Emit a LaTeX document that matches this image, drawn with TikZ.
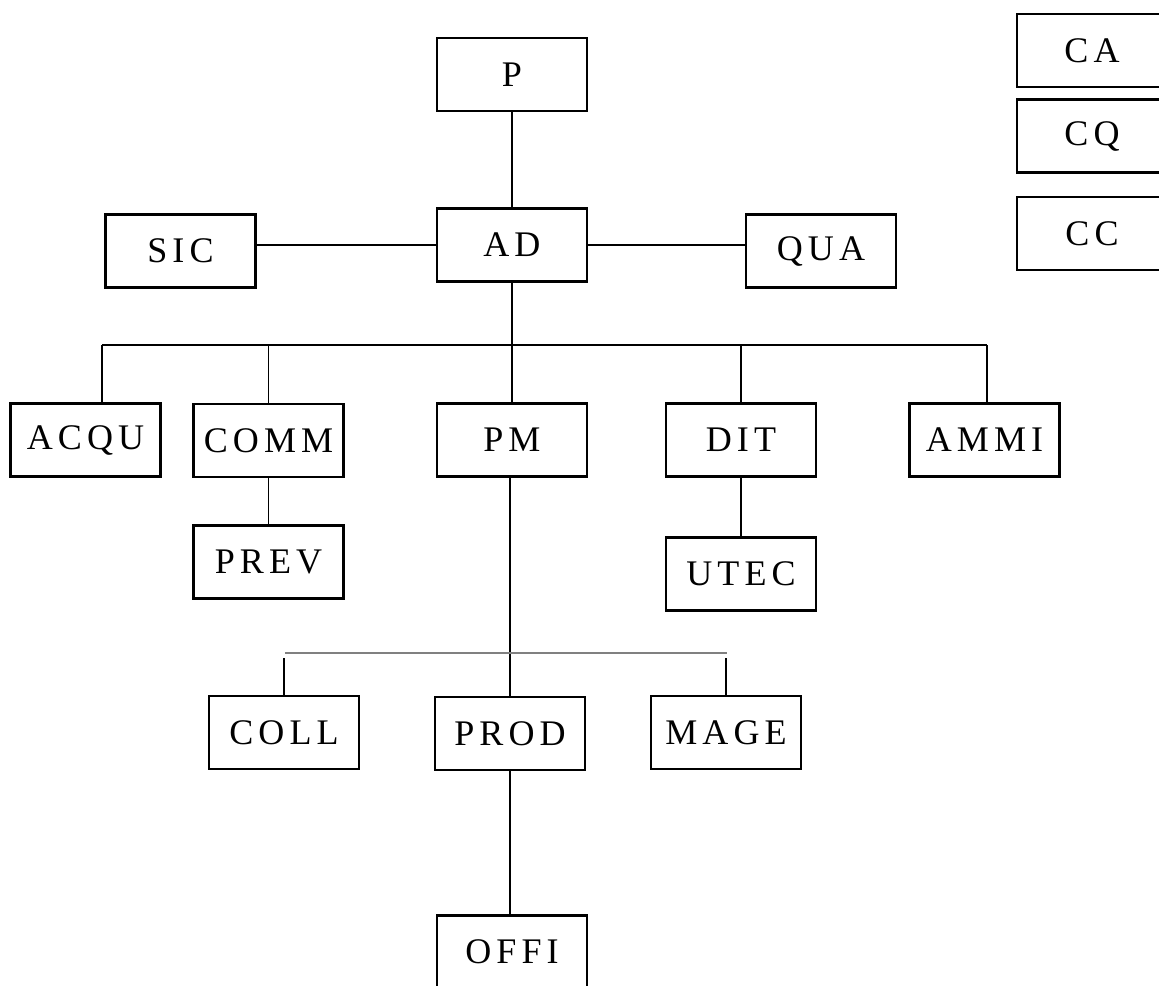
\documentclass[tikz,border=0pt]{standalone}
\usepackage{fontspec}
\setmainfont{Liberation Serif}[LetterSpace=14]
\begin{document}
\begin{tikzpicture}[x=0.02cm,y=-0.02cm,
    unit/.style={draw,line width=1.5pt,minimum width=3cm,minimum height=1.46cm,inner sep=0pt,font=\fontsize{20.5}{24}\selectfont},
    link/.style={line width=0.8pt}]
    \useasboundingbox (0,0) rectangle (1159,985);
    \node[unit] (P) at (512,74.5) {P};
    \node[unit] (AD) at (512,245) {AD};
    \node[unit] (SIC) at (180.5,251) {SIC};
    \node[unit] (QUA) at (821,251) {QUA};
    \node[unit] (CA) at (1092,50.5) {CA};
    \node[unit] (CQ) at (1092,136) {CQ};
    \node[unit] (CC) at (1092,233.5) {CC};
    \node[unit] (ACQU) at (85.5,440) {ACQU};
    \node[unit] (COMM) at (268.5,440.5) {COMM};
    \node[unit] (PM) at (512,440) {PM};
    \node[unit] (DIT) at (741,440) {DIT};
    \node[unit] (AMMI) at (984.5,440) {AMMI};
    \node[unit] (PREV) at (268.5,562) {PREV};
    \node[unit] (UTEC) at (741,574) {UTEC};
    \node[unit] (COLL) at (284,732.5) {COLL};
    \node[unit] (PROD) at (510,733.5) {PROD};
    \node[unit] (MAGE) at (726,732.5) {MAGE};
    \node[unit] (OFFI) at (512,952) {OFFI};
    \coordinate (busL) at (102,345);
    \coordinate (busR) at (987,345);
    \coordinate (subL) at (285,653);
    \coordinate (subR) at (727,653);
    \draw[link] (P.south) -- (AD.north);
    \draw[link] (AD.west) -- (AD.west -| SIC.east);
    \draw[link] (AD.east) -- (AD.east -| QUA.west);
    \draw[link] (AD.south) -- (PM.north);
    \draw[link] (busL) -- (busR);
    \draw[link] (busL) -- (busL |- ACQU.north);
    \draw[link] (COMM.north |- busL) -- (COMM.north);
    \draw[link] (DIT.north |- busL) -- (DIT.north);
    \draw[link] (busR) -- (busR |- AMMI.north);
    \draw[link] (COMM.south) -- (PREV.north);
    \draw[link] (DIT.south) -- (UTEC.north);
    \draw[link] (PM.south -| PROD.north) -- (PROD.north);
    \draw[line width=1pt,gray] (subL) -- (subR);
    \draw[link] (COLL.north) -- ++(0,-37);
    \draw[link] (MAGE.north) -- ++(0,-37);
    \draw[link] (PROD.south) -- (PROD.south |- OFFI.north);
\end{tikzpicture}
\end{document}
